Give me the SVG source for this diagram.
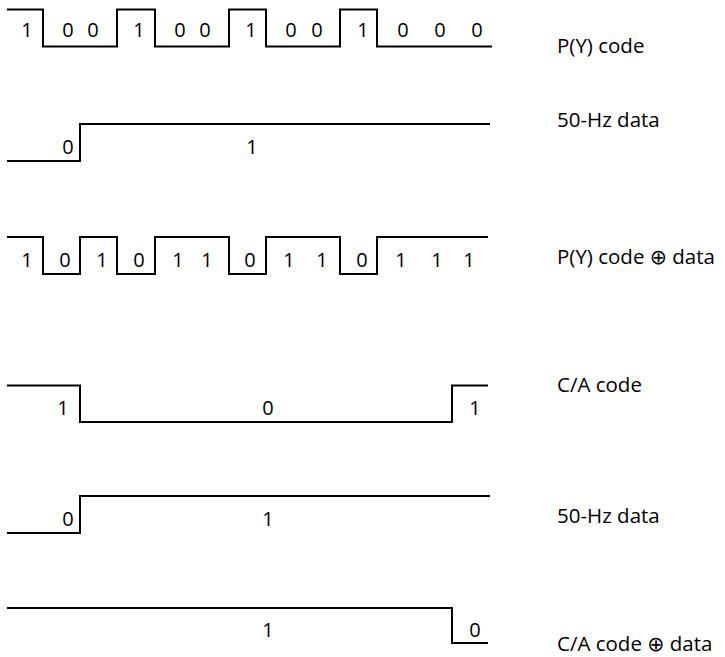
<svg xmlns="http://www.w3.org/2000/svg" width="725" height="657" viewBox="0 0 725 657">
<style>
.w{fill:none;stroke:#000;stroke-width:2;stroke-linejoin:miter}
text{font-family:"Open Sans","Noto Sans","DejaVu Sans",sans-serif;font-size:20px;fill:#000}
.l{font-size:20.5px}
.b{text-anchor:middle}
</style>
<rect width="725" height="657" fill="#fff"/>
<g id="pycode">
<path class="w" d="M7 9.5H43V46.5H117V9.5H155V46.5H229V9.5H266V46.5H340V9.5H377V46.5H492"/>
<text class="b" x="27" y="37">1</text>
<text class="b" x="68" y="37">0</text>
<text class="b" x="93" y="37">0</text>
<text class="b" x="139" y="37">1</text>
<text class="b" x="180" y="37">0</text>
<text class="b" x="205" y="37">0</text>
<text class="b" x="251" y="37">1</text>
<text class="b" x="291" y="37">0</text>
<text class="b" x="317" y="37">0</text>
<text class="b" x="363" y="37">1</text>
<text class="b" x="403" y="37">0</text>
<text class="b" x="440" y="37">0</text>
<text class="b" x="477" y="37">0</text>
<text class="l" x="557" y="53">P(Y) code</text>
</g>
<g id="data1">
<path class="w" d="M7 161H80V124H490"/>
<text class="b" x="68" y="154">0</text>
<text class="b" x="252" y="154">1</text>
<text class="l" x="557" y="127">50-Hz data</text>
</g>
<g id="pyxor">
<path class="w" d="M7 237H43V274H80V237H117V274H155V237H229V274H266V237H340V274H377V237H488"/>
<text class="b" x="27" y="267">1</text>
<text class="b" x="65" y="267">0</text>
<text class="b" x="102" y="267">1</text>
<text class="b" x="139" y="267">0</text>
<text class="b" x="178" y="267">1</text>
<text class="b" x="207" y="267">1</text>
<text class="b" x="250" y="267">0</text>
<text class="b" x="289" y="267">1</text>
<text class="b" x="322" y="267">1</text>
<text class="b" x="362" y="267">0</text>
<text class="b" x="401" y="267">1</text>
<text class="b" x="437" y="267">1</text>
<text class="b" x="469" y="267">1</text>
<text class="l" x="557" y="264">P(Y) code ⊕ data</text>
</g>
<g id="cacode">
<path class="w" d="M7 385.5H80V422H452V385.5H488"/>
<text class="b" x="63" y="415">1</text>
<text class="b" x="268" y="415">0</text>
<text class="b" x="475" y="415">1</text>
<text class="l" x="557" y="392">C/A code</text>
</g>
<g id="data2">
<path class="w" d="M7 533H80V496H490"/>
<text class="b" x="68" y="526">0</text>
<text class="b" x="268" y="526">1</text>
<text class="l" x="557" y="523">50-Hz data</text>
</g>
<g id="caxor">
<path class="w" d="M7 608H452V643H488"/>
<text class="b" x="268" y="637">1</text>
<text class="b" x="475" y="637">0</text>
<text class="l" x="557" y="651">C/A code ⊕ data</text>
</g>
</svg>
